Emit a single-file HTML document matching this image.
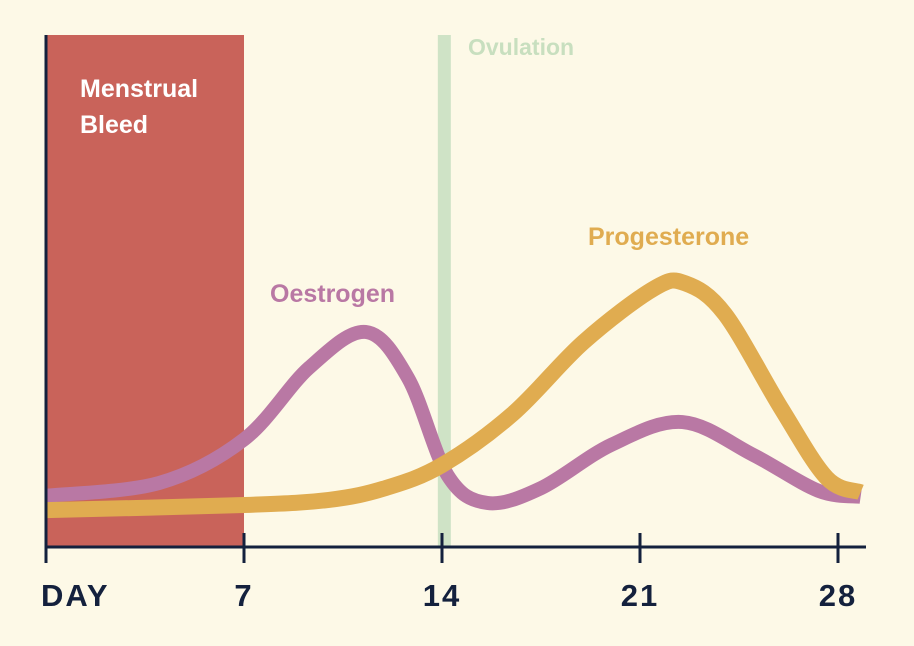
<!DOCTYPE html>
<html><head><meta charset="utf-8"><style>
html,body{margin:0;padding:0;background:#fdf9e7;}
svg{display:block;font-family:"Liberation Sans",sans-serif;}
</style></head><body>
<svg width="914" height="646" viewBox="0 0 914 646" id="chart">
<rect x="0" y="0" width="914" height="646" fill="#fdf9e7"/>
</svg>
<script>
const days = [0,4,7,9.3,11.3,12.8,14.2,15.6,17.5,20,22.5,25,27.3,28.8];
const oestrogen = [10,12.5,21,35,42,33,14,8.6,11.5,20,24.4,18,11,9.8];
const progDays = [0,7,10,12,14,16.5,19,21.5,22.6,24,26,27.6,28.8];
const progesterone = [7.2,8.2,9.2,11.5,16,26,40,50.5,51.5,45.5,27,13.5,10.7];
const tickDays = [7,14,21,28];
const tickLabels = ["7","14","21","28"];
const bleedRange = [0,7];
const ovulationDay = 14.1;

const NS="http://www.w3.org/2000/svg";
const svg=document.getElementById('chart');
const x=d=>46+d*(198/7);
const y=v=>547-v*5.12;
const TOP=35, BASE=547;
function el(t,a,p){const e=document.createElementNS(NS,t);for(const k in a)e.setAttribute(k,a[k]);(p||svg).appendChild(e);return e;}
function path(xs,vs){const P=xs.map((d,i)=>[x(d),y(vs[i])]);let s=`M${P[0][0]},${P[0][1]}`;
for(let i=0;i<P.length-1;i++){const p0=P[i-1]||P[i],p1=P[i],p2=P[i+1],p3=P[i+2]||p2;
s+=` C${p1[0]+(p2[0]-p0[0])/6},${p1[1]+(p2[1]-p0[1])/6} ${p2[0]-(p3[0]-p1[0])/6},${p2[1]-(p3[1]-p1[1])/6} ${p2[0]},${p2[1]}`;}return s;}

const bleed=el('rect',{x:x(bleedRange[0]),y:TOP,width:x(bleedRange[1])-x(bleedRange[0]),height:BASE-TOP,fill:'#c9635a'});


const ov=el('rect',{x:x(ovulationDay)-7,y:TOP,width:13,height:BASE-TOP,fill:'#cfe3c6'});



const oe=el('path',{d:path(days,oestrogen),fill:'none',stroke:'#b978a4',"stroke-width":14,"stroke-linecap":"butt"});


const pr=el('path',{d:path(progDays,progesterone),fill:'none',stroke:'#e0ac50',"stroke-width":16,"stroke-linecap":"butt"});



const ax=el('path',{d:`M46,35 V563 M46,${BASE} H866`,stroke:'#14213d',"stroke-width":3,fill:'none'});


tickDays.forEach((d,i)=>{
 const t=el('line',{x1:x(d),x2:x(d),y1:533,y2:563,stroke:'#14213d',"stroke-width":3});
 
 
 const l=el('text',{x:x(d),y:606,"text-anchor":"middle","font-size":31,"font-weight":"bold",fill:'#14213d',"letter-spacing":"2"});
 l.textContent=tickLabels[i];
 
 
});
function label(txt,X,Y,fill,name,size){const t=el('text',{x:X,y:Y,"font-size":size||25,"font-weight":"bold",fill:fill});t.textContent=txt;return t;}
const dl=label('DAY',41,606,'#14213d','x-axis-title',31);dl.setAttribute('letter-spacing','2');
label('Menstrual',80,97,'#ffffff','menstrual-label');
label('Bleed',80,133,'#ffffff','bleed-label');
label('Ovulation',468,55,'#c8dfbf','ovulation-label',23);
label('Oestrogen',270,302,'#b978a4','oestrogen-label');
label('Progesterone',588,245,'#e0ac50','progesterone-label');
</script>
</body></html>
